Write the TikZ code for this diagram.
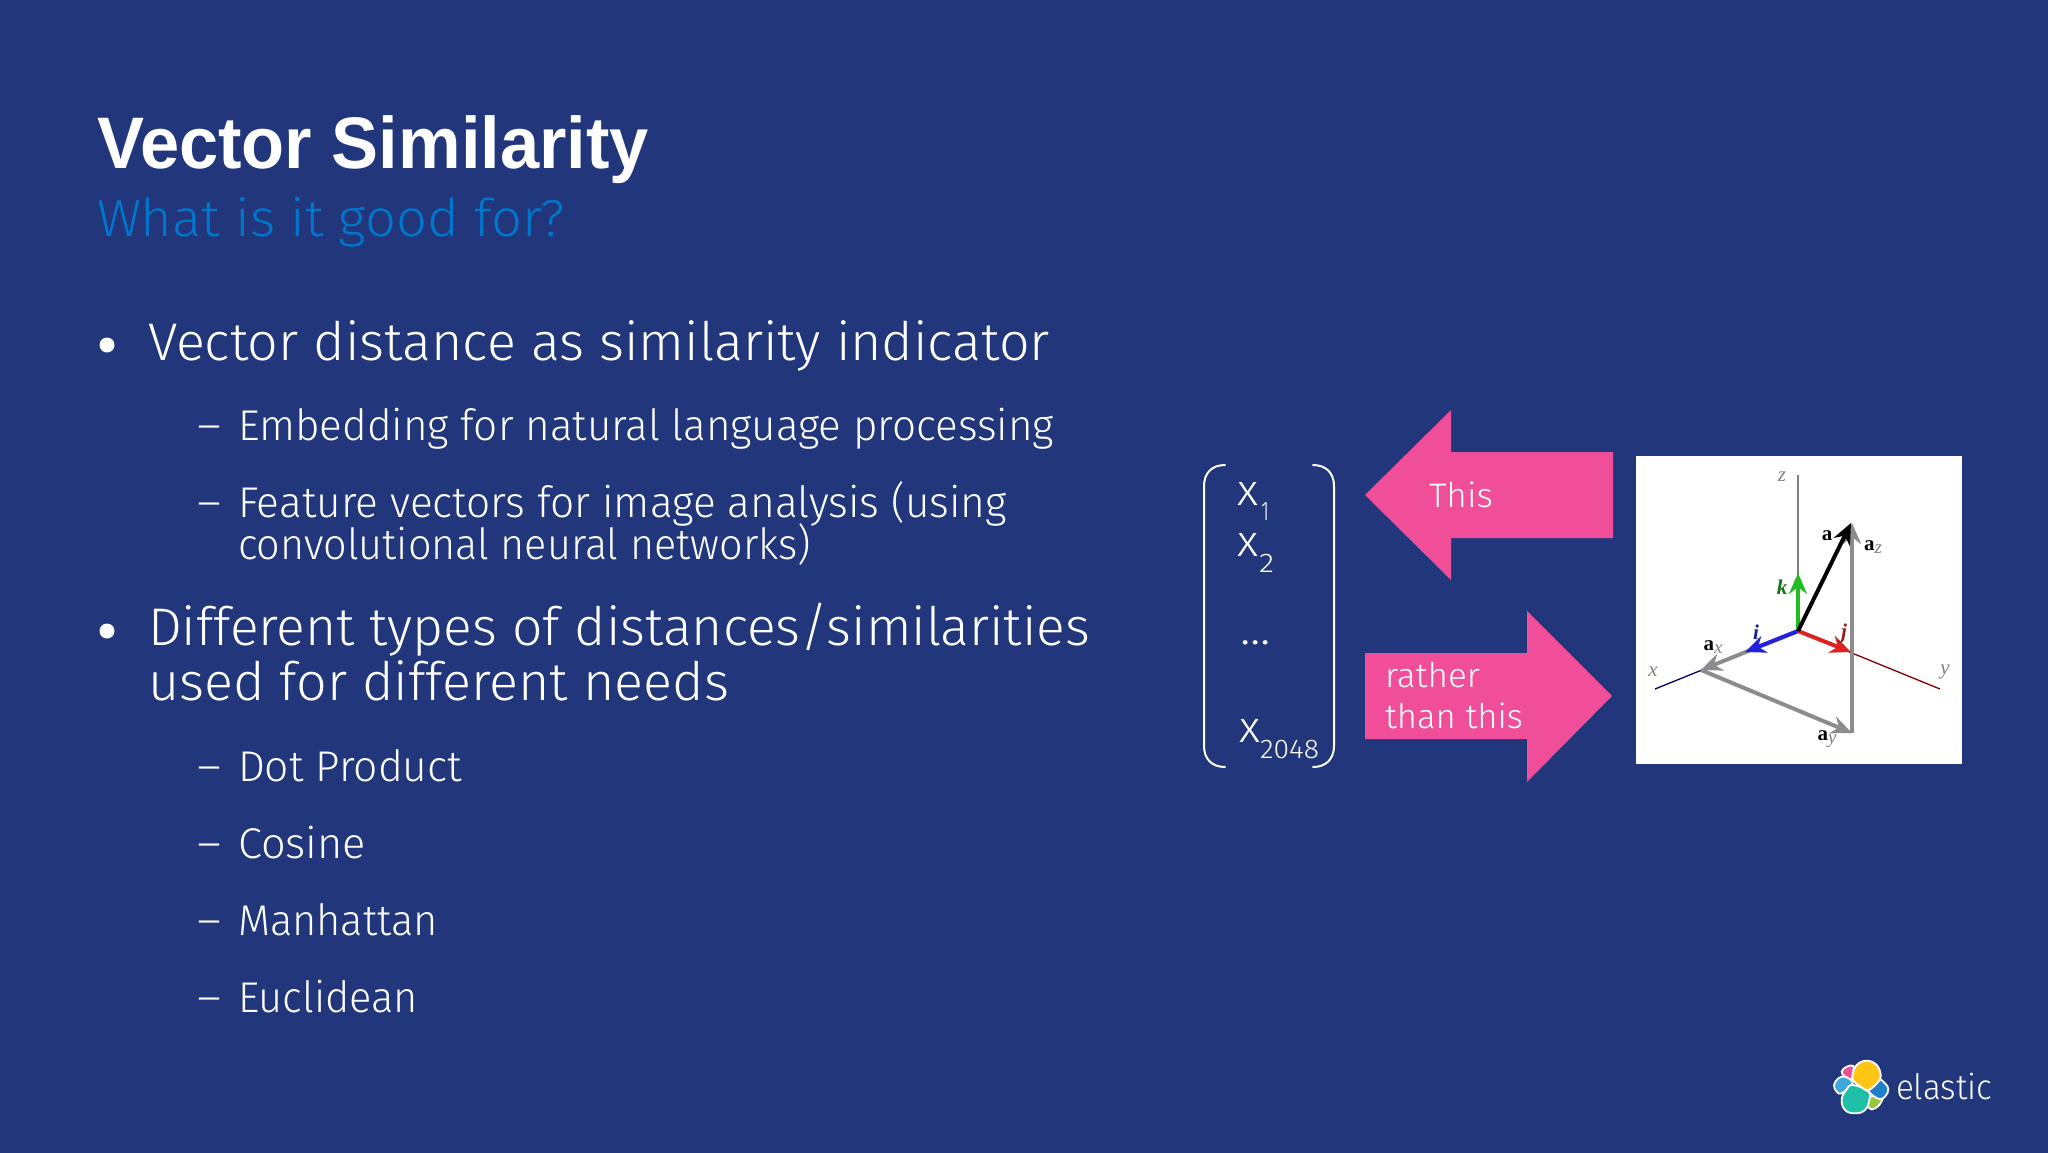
\documentclass[tikz,border=0pt]{standalone}
\usepackage{fontspec}
\usepackage{graphicx}
\usetikzlibrary{arrows.meta}
\setmainfont{Fira Sans}[UprightFont={* Light},BoldFont={* Bold}]
\newfontfamily\titlefont{Liberation Sans}
\newfontfamily\imgfont{Liberation Serif}
\definecolor{bgblue}{HTML}{21367B}
\definecolor{pinkarrow}{HTML}{F04E98}
\definecolor{subblue}{HTML}{0077CC}
\definecolor{lyellow}{HTML}{FEC514}
\definecolor{lteal}{HTML}{1FBFA8}
\definecolor{llblue}{HTML}{3EA7DC}
\definecolor{ldblue}{HTML}{1F7FC9}
\definecolor{lgreen}{HTML}{93C83E}
\definecolor{iblue}{HTML}{2222DD}
\definecolor{jred}{HTML}{DD2222}
\definecolor{kgreen}{HTML}{22BB22}
\definecolor{vgray}{HTML}{8C8C8C}
\tikzset{
  txt/.style={anchor=base west,inner sep=0pt,outer sep=0pt,text=white},
  blob/.style={draw=white,line width=1.8pt},
  axis/.style={line width=1.3pt},
  vec/.style={line width=4pt,-{Stealth[length=21pt,width=18pt,inset=7pt]}},
  lab/.style={inner sep=0pt,font=\imgfont\fontsize{21}{21}\selectfont},
  bracket/.style={draw=white,line width=2pt,line cap=round},
}
% name, x, baseline, width, size, text
\newcommand{\tl}[6]{\node[txt] (#1) at (#2,#3) {\resizebox{#4pt}{\height}{\fontsize{#5}{#5}\selectfont #6}};}
\newcommand{\asub}[1]{\textbf{a}\raisebox{-3pt}{\fontsize{19}{19}\selectfont\itshape\textcolor{gray}{#1}}}
\begin{document}
\begin{tikzpicture}[x=1pt,y=-1pt]
\useasboundingbox (0,0) rectangle (2048,1152);
\fill[bgblue] (-5,-5) rectangle (2053,1157);
% title
\node[txt] (title) at (97,168.5) {\resizebox{552pt}{\height}{\titlefont\bfseries\fontsize{73}{73}\selectfont Vector Similarity}};
\node[txt,text=subblue] (subtitle) at (97,236) {\resizebox{468pt}{\height}{\fontsize{52}{52}\selectfont What is it good for?}};
% bullets
\fill[white] (107,345) circle (7.5pt);
\fill[white] (107,631) circle (7.5pt);
\tl{b1}{148}{360}{902}{53}{Vector distance as similarity indicator}
\tl{s1}{238}{440}{816}{43}{Embedding for natural language processing}
\tl{s2}{238}{517}{769}{43}{Feature vectors for image analysis (using}
\tl{s2b}{238}{559}{573}{43}{convolutional neural networks)}
\tl{b2}{148}{645.5}{942}{53}{Different types of distances/similarities}
\tl{b2b}{148}{700.5}{581}{53}{used for different needs}
\tl{s3}{238}{781}{224}{43}{Dot Product}
\tl{s4}{238}{858}{128}{43}{Cosine}
\tl{s5}{238}{935}{200}{43}{Manhattan}
\tl{s6}{238}{1012}{180}{43}{Euclidean}
\tl{d1}{197}{440}{24}{43}{–}
\tl{d2}{197}{517}{24}{43}{–}
\tl{d3}{197}{781}{24}{43}{–}
\tl{d4}{197}{858}{24}{43}{–}
\tl{d5}{197}{935}{24}{43}{–}
\tl{d6}{197}{1012}{24}{43}{–}
% vector column
\draw[bracket] (1225,465) .. controls (1212,465) and (1204,473) .. (1204,486) -- (1204,746) .. controls (1204,759) and (1212,767) .. (1225,767);
\draw[bracket] (1313,465) .. controls (1326,465) and (1334,473) .. (1334,486) -- (1334,746) .. controls (1334,759) and (1326,767) .. (1313,767);
\tl{x1}{1237}{505}{21}{44}{x}
\tl{x1s}{1261}{520}{8}{27}{1}
\tl{x2}{1237}{556}{21}{44}{x}
\tl{x2s}{1259}{572}{15}{27}{2}
\tl{xd}{1240}{644}{31}{46}{...}
\tl{xn}{1239}{742}{21}{44}{x}
\tl{xns}{1260}{758}{59}{27}{2048}
% pink arrows
\fill[pinkarrow] (1365,495) -- (1451,410) -- (1451,452) -- (1613,452) -- (1613,538) -- (1451,538) -- (1451,580) -- cycle;
\fill[pinkarrow] (1612,696) -- (1527,611) -- (1527,653) -- (1365,653) -- (1365,739) -- (1527,739) -- (1527,782) -- cycle;
\tl{this}{1429}{507}{64}{34}{This}
\tl{rather}{1385}{687}{95}{34}{rather}
\tl{than}{1385}{728}{138}{34}{than this}
% vector image
\fill[white] (1636,456) rectangle (1962,764);
\coordinate (O) at (1798,631);
\coordinate (Z) at (1798,475);
\coordinate (Xe) at (1655,689);
\coordinate (Ye) at (1940,689);
\coordinate (A) at (1851,523);
\coordinate (K) at (1798,573);
\coordinate (I) at (1745,652);
\coordinate (J) at (1851,652);
\coordinate (Ax) at (1701,670);
\coordinate (Ay) at (1852,733);
\coordinate (Az) at (1852,523);
\draw[axis,gray] (O) -- (Z);
\draw[axis,blue!40!black] (O) -- (Xe);
\draw[axis,red!50!black] (O) -- (Ye);
\draw[vec,vgray] (O) -- (Ax);
\draw[vec,vgray] (Ax) -- (Ay);
\draw[vec,vgray] (Ay) -- (Az);
\draw[vec,kgreen] (O) -- (K);
\draw[vec,iblue] (O) -- (I);
\draw[vec,jred] (O) -- (J);
\draw[vec,black] (O) -- (A);
\node[lab,text=gray] (lz) at (1782,477) {\itshape z};
\node[lab] (la) at (1827,536) {\textbf{a}};
\node[lab] (laz) at (1873,547) {\asub{z}};
\node[lab,text=kgreen!60!black] (lk) at (1782,587) {\bfseries\itshape k};
\node[lab,text=iblue!70!black] (li) at (1756,632) {\bfseries\itshape i};
\node[lab,text=jred!70!black] (lj) at (1844,633) {\bfseries\itshape j};
\node[lab] (lax) at (1713,647) {\asub{x}};
\node[lab,text=gray] (lx) at (1653,672) {\itshape x};
\node[lab,text=gray] (ly) at (1945,672) {\itshape y};
\node[lab] (lay) at (1827,739) {\asub{y}};
% logo
\begin{scope}[shift={(1810,1040)},x=0.3333pt,y=-0.3333pt]
\fill[blob,fill=lgreen] plot[smooth cycle,tension=.7] coordinates {(175,172) (215,172) (210,192) (195,205) (178,205)};
\fill[blob,fill=ldblue] plot[smooth cycle,tension=.7] coordinates {(176,150) (205,120) (225,130) (235,148) (225,170) (205,176)};
\fill[blob,fill=pinkarrow] plot[smooth cycle,tension=.7] coordinates {(95,95) (110,80) (130,78) (128,100) (125,118) (105,110)};
\fill[blob,fill=llblue] plot[smooth cycle,tension=.7] coordinates {(72,135) (85,115) (105,110) (127,125) (122,136) (95,160) (80,155)};
\fill[blob,fill=lteal] plot[smooth cycle,tension=.7] coordinates {(95,178) (110,148) (130,135) (175,155) (178,180) (165,210) (135,220) (105,210)};
\fill[blob,fill=lyellow] plot[smooth cycle,tension=.7] coordinates {(128,105) (140,75) (170,62) (200,75) (212,105) (205,125) (175,150) (150,138) (130,122)};
\end{scope}
\tl{elastic}{1896}{1099}{96}{35}{elastic}
\end{tikzpicture}
\end{document}
